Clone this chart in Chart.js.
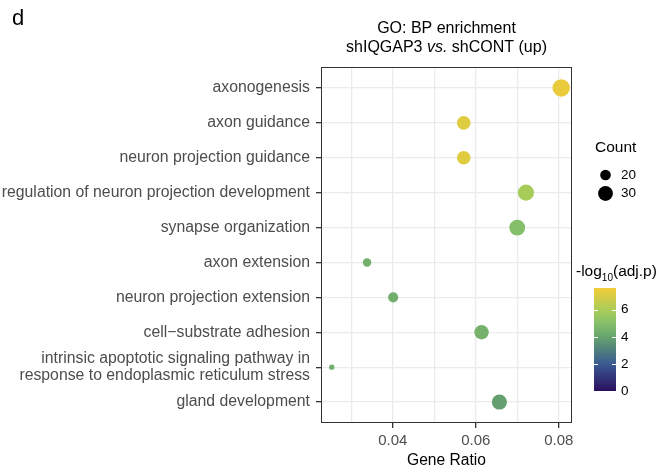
<!DOCTYPE html>
<html>
<head>
<meta charset="utf-8">
<script src="https://cdn.jsdelivr.net/npm/chart.js@4.4.0/dist/chart.umd.min.js"></script>
<style>
  html, body { margin: 0; padding: 0; background: #fff; }
  #wrap { position: relative; width: 670px; height: 473px; }
</style>
</head>
<body>
<div id="wrap"><canvas id="chart" width="670" height="473"></canvas></div>
<script>
const terms = [
  'axonogenesis',
  'axon guidance',
  'neuron projection guidance',
  'regulation of neuron projection development',
  'synapse organization',
  'axon extension',
  'neuron projection extension',
  'cell\u2212substrate adhesion',
  'intrinsic apoptotic signaling pathway in\nresponse to endoplasmic reticulum stress',
  'gland development',
];
const geneRatio = [0.0806, 0.0571, 0.0571, 0.0721, 0.0700, 0.0338, 0.0401, 0.0614, 0.0253, 0.0657];
const counts = [38, 27, 27, 34, 33, 16, 19, 29, 12, 31];
const negLogP = [7.4, 7.2, 7.2, 5.9, 5.0, 4.4, 4.4, 4.5, 4.4, 3.9];

const xTicks = [0.04, 0.06, 0.08];
const countBreaks = [20, 30];
const colorBreaks = [0, 2, 4, 6];
const colorLimits = [0, 7.6];
const colorStops = [
  [0, '#2b0f5f'],
  [2, '#3a5a92'],
  [4, '#66a46d'],
  [5, '#85bf6a'],
  [6, '#abcd58'],
  [7.6, '#f2cb38'],
];

const FONT = "'Liberation Sans', Arial, sans-serif";

// Area-linear size scale, like ggplot's scale_size.
function radiusFor(count) {
  return Math.sqrt(Math.max(0.5, -24.3 + 2.63 * count));
}

function hexToRgb(hex) {
  const n = parseInt(hex.slice(1), 16);
  return [(n >> 16) & 255, (n >> 8) & 255, n & 255];
}

function colorFor(value) {
  for (let i = 1; i < colorStops.length; i++) {
    const [v0, c0] = colorStops[i - 1];
    const [v1, c1] = colorStops[i];
    if (value <= v1 || i === colorStops.length - 1) {
      const t = Math.min(1, Math.max(0, (value - v0) / (v1 - v0)));
      const a = hexToRgb(c0);
      const b = hexToRgb(c1);
      const rgb = a.map((x, k) => Math.round(x + (b[k] - x) * t));
      return `rgb(${rgb.join(',')})`;
    }
  }
  return colorStops[0][1];
}

const isMajor = (value) => xTicks.some((t) => Math.abs(t - value) < 1e-9);

// Panel border, title, panel tag and both legends.
const decorations = {
  id: 'decorations',
  afterDraw(chart) {
    const { ctx, chartArea: area } = chart;
    ctx.save();

    ctx.strokeStyle = '#333333';
    ctx.lineWidth = 1;
    ctx.strokeRect(area.left + 0.5, area.top + 0.5, area.right - area.left - 1, area.bottom - area.top - 1);

    ctx.fillStyle = '#000';
    ctx.textBaseline = 'middle';
    ctx.font = `22px ${FONT}`;
    ctx.textAlign = 'left';
    ctx.fillText('d', 12, 19);

    // title, second line with italic "vs."
    const cx = (area.left + area.right) / 2;
    ctx.font = `16px ${FONT}`;
    ctx.textAlign = 'center';
    ctx.fillText('GO: BP enrichment', cx, 29);
    const parts = [['shIQGAP3 ', 'normal'], ['vs.', 'italic'], [' shCONT (up)', 'normal']];
    const widths = parts.map(([text, style]) => {
      ctx.font = `${style} 16px ${FONT}`;
      return ctx.measureText(text).width;
    });
    let x = cx - widths.reduce((a, b) => a + b, 0) / 2;
    ctx.textAlign = 'left';
    parts.forEach(([text, style], i) => {
      ctx.font = `${style} 16px ${FONT}`;
      ctx.fillText(text, x, 48);
      x += widths[i];
    });

    // size legend
    ctx.font = `15.5px ${FONT}`;
    ctx.textAlign = 'left';
    ctx.fillText('Count', 595, 148);
    ctx.font = `13.5px ${FONT}`;
    countBreaks.forEach((c, i) => {
      const y = 175 + i * 18.5;
      ctx.beginPath();
      ctx.arc(605.5, y, radiusFor(c), 0, Math.PI * 2);
      ctx.fillStyle = '#000';
      ctx.fill();
      ctx.fillText(String(c), 621, y);
    });

    // colour bar legend
    ctx.font = `15.5px ${FONT}`;
    let tx = 576;
    ctx.fillText('-log', tx, 272);
    tx += ctx.measureText('-log').width;
    ctx.font = `10px ${FONT}`;
    ctx.fillText('10', tx, 278);
    tx += ctx.measureText('10').width;
    ctx.font = `15.5px ${FONT}`;
    ctx.fillText('(adj.p)', tx, 272);

    const barLeft = 594, barRight = 616, barTop = 288, barBottom = 391;
    const yFor = (v) => barBottom - (v - colorLimits[0]) / (colorLimits[1] - colorLimits[0]) * (barBottom - barTop);
    const grad = ctx.createLinearGradient(0, barBottom, 0, barTop);
    colorStops.forEach(([v, c]) => grad.addColorStop((v - colorLimits[0]) / (colorLimits[1] - colorLimits[0]), c));
    ctx.fillStyle = grad;
    ctx.fillRect(barLeft, barTop, barRight - barLeft, barBottom - barTop);

    ctx.strokeStyle = '#ffffff';
    ctx.lineWidth = 1;
    ctx.font = `13.5px ${FONT}`;
    colorBreaks.forEach((v) => {
      const y = Math.round(yFor(v)) + 0.5;
      ctx.beginPath();
      ctx.moveTo(barLeft, y); ctx.lineTo(barLeft + 4, y);
      ctx.moveTo(barRight - 4, y); ctx.lineTo(barRight, y);
      ctx.stroke();
      ctx.fillStyle = '#000';
      ctx.fillText(String(v), 621, yFor(v));
    });

    ctx.restore();
  },
};

new Chart(document.getElementById('chart').getContext('2d'), {
  type: 'scatter',
  data: {
    datasets: [{
      data: geneRatio.map((r, i) => ({ x: r, y: i })),
      pointRadius: counts.map(radiusFor),
      pointHoverRadius: counts.map(radiusFor),
      backgroundColor: negLogP.map(colorFor),
      borderWidth: 0,
    }],
  },
  options: {
    responsive: false,
    animation: false,
    layout: { padding: { left: 0, right: 98, top: 67, bottom: 0 } },
    plugins: {
      legend: { display: false },
      tooltip: { enabled: false },
    },
    scales: {
      x: {
        type: 'linear',
        min: 0.0227,
        max: 0.0832,
        border: { display: false },
        grid: {
          color: '#ebebeb',
          lineWidth: 1.3,
          tickLength: 5,
          tickColor: (c) => (c.tick && isMajor(c.tick.value) ? '#333333' : 'rgba(0,0,0,0)'),
        },
        ticks: {
          stepSize: 0.01,
          includeBounds: false,
          autoSkip: false,
          maxRotation: 0,
          padding: 4,
          color: '#4d4d4d',
          font: { family: FONT, size: 15 },
          callback: (value) => (isMajor(value) ? value.toFixed(2) : ''),
        },
        title: {
          display: true,
          text: 'Gene Ratio',
          color: '#000',
          font: { family: FONT, size: 15.6 },
          padding: { top: 0, bottom: 3 },
        },
        afterFit: (scale) => { scale.height = 50; },
      },
      y: {
        type: 'linear',
        reverse: true,
        min: -0.6,
        max: 9.6,
        border: { display: false },
        grid: {
          color: '#ebebeb',
          lineWidth: 1.3,
          tickLength: 5,
          tickColor: '#333333',
        },
        ticks: {
          stepSize: 1,
          includeBounds: false,
          autoSkip: false,
          padding: 6,
          color: '#4d4d4d',
          font: { family: FONT, size: 15.8, lineHeight: 1.02 },
          callback: (value) => {
            const label = terms[Math.round(value)];
            return label ? label.split('\n') : '';
          },
        },
        afterFit: (scale) => { scale.width = 321; },
      },
    },
  },
  plugins: [decorations],
});
</script>
</body>
</html>
